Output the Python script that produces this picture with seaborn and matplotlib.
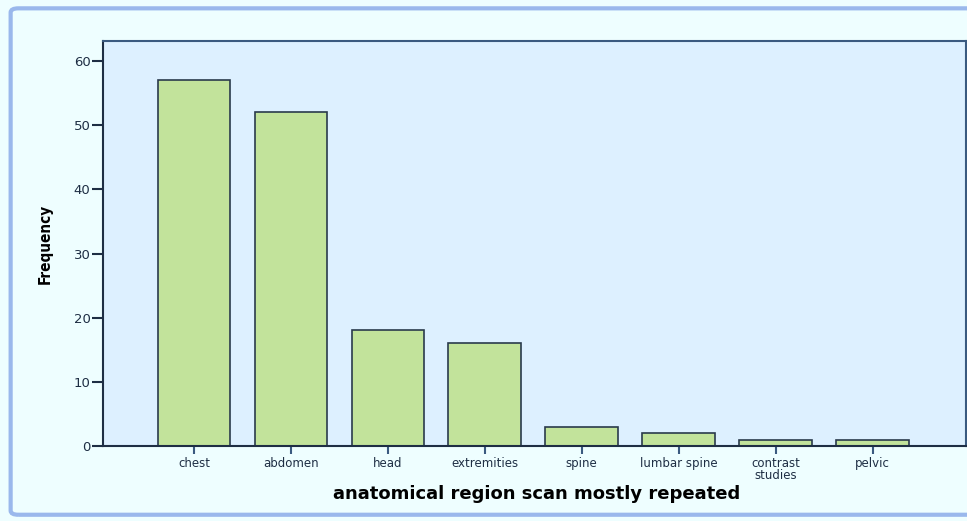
import pandas as pd
import seaborn as sns
import matplotlib.pyplot as plt
from matplotlib.patches import FancyBboxPatch

# data
regions = ["chest", "abdomen", "head", "extremities", "spine",
           "lumbar spine", "contrast\nstudies", "pelvic"]
freq = [57, 52, 18, 16, 3, 2, 1, 1]

df = pd.DataFrame({"region": regions, "Frequency": freq})

sns.set_style("white")
plt.rcParams['font.family'] = ['DejaVu Sans']

fig = plt.figure(figsize=(9.67, 5.21), dpi=100)
fig.patch.set_facecolor("#eefeff")

# outer frame with blue border
frame = FancyBboxPatch((0.011, 0.012), 1.2, 0.972, boxstyle="round,pad=0,rounding_size=0.008",
                       transform=fig.transFigure, facecolor="none",
                       edgecolor="#9ab8ec", linewidth=3, zorder=0)
fig.patches.append(frame)

ax = fig.add_axes([0.1065, 0.144, 0.892, 0.777])
ax.set_facecolor("#ddf0ff")

sns.barplot(data=df, x="region", y="Frequency", ax=ax, color="#c2e39b",
            edgecolor="#2a3a4c", linewidth=1.2, width=0.75, saturation=1)

ax.set_xlim(-0.94, 7.96)
ax.set_ylim(0, 63.1)
ax.set_yticks([0, 10, 20, 30, 40, 50, 60])
ax.tick_params(axis="y", direction="out", length=8, width=1.5, color="#1e2e44",
               labelsize=9.5, labelcolor="#1e2e44", pad=1, left=True)
ax.tick_params(axis="x", direction="out", length=6, width=1.5, color="#3a5a80",
               labelsize=8.5, labelcolor="#1e2e44", pad=2, bottom=True)
for lab in ax.get_xticklabels():
    lab.set_linespacing(0.85)

for s in ["left", "bottom"]:
    ax.spines[s].set_color("#1e2e44")
    ax.spines[s].set_linewidth(1.5)
for s in ["top", "right"]:
    ax.spines[s].set_color("#3a5a80")
    ax.spines[s].set_linewidth(1.5)

ax.set_ylabel("Frequency", fontsize=11, fontweight="bold", fontstretch="condensed",
              color="black")
ax.yaxis.set_label_coords(-0.058, 0.5)
ax.set_xlabel("anatomical region scan mostly repeated", fontsize=13,
              fontweight="bold", color="black")
ax.xaxis.set_label_coords(0.503, -0.097)

fig.savefig("out.png", dpi=100, facecolor=fig.get_facecolor())
